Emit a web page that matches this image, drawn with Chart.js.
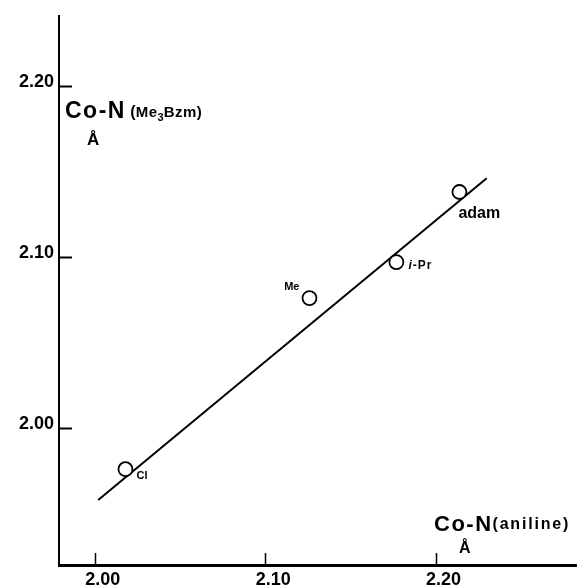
<!DOCTYPE html>
<html><head><meta charset="utf-8">
<script src="https://cdn.jsdelivr.net/npm/chart.js@4/dist/chart.umd.min.js"></script>
<style>html,body{margin:0;padding:0;background:#fff;}#wrap{width:577px;height:588px;}</style>
</head><body><div id="wrap"><canvas id="c" width="577" height="588"></canvas></div>
<script>
const compoundLabels = ['Cl', 'Me', 'i-Pr', 'adam'];
const coNAniline = [2.018, 2.126, 2.177, 2.214];
const coNMe3Bzm = [1.976, 2.076, 2.097, 2.138];
const fitLineX = [2.002, 2.230];
const fitLineY = [1.958, 2.146];
const xTicks = [2.00, 2.10, 2.20];
const yTicks = [2.00, 2.10, 2.20];
const xRange = [1.979, 2.283];
const yRange = [1.920, 2.241];

const FONT = '"Liberation Sans", Arial, sans-serif';

const pointData = coNAniline.map((x, i) => ({x: x, y: coNMe3Bzm[i]}));
const lineData = fitLineX.map((x, i) => ({x: x, y: fitLineY[i]}));

const decor = {
  id: 'decor',
  afterDraw(chart) {
    const ctx = chart.ctx;
    const xs = chart.scales.x, ys = chart.scales.y;
    const ca = chart.chartArea;
    ctx.save();
    ctx.strokeStyle = '#000';
    ctx.lineWidth = 2;
    yTicks.forEach(v => {
      const py = Math.round(ys.getPixelForValue(v)) + 0.5;
      ctx.beginPath(); ctx.moveTo(ca.left, py); ctx.lineTo(ca.left + 13, py); ctx.stroke();
    });
    ctx.lineWidth = 1.5;
    xTicks.forEach(v => {
      const px = Math.round(xs.getPixelForValue(v)) + 0.5;
      ctx.beginPath(); ctx.moveTo(px, ca.bottom); ctx.lineTo(px, ca.bottom - 12); ctx.stroke();
    });
    ctx.fillStyle = '#000';
    ctx.textBaseline = 'alphabetic';
    // point labels
    const offs = [[11, 10, 'left', 11], [-10, -8, 'right', 11], [12, 7, 'left', 12], [-1, 26, 'left', 16]];
    compoundLabels.forEach((lab, i) => {
      const px = xs.getPixelForValue(coNAniline[i]);
      const py = ys.getPixelForValue(coNMe3Bzm[i]);
      const o = offs[i];
      ctx.textAlign = o[2];
      if (lab.startsWith('i-')) {
        ctx.textAlign = 'left';
        ctx.font = 'italic bold ' + o[3] + 'px ' + FONT;
        ctx.fillText('i', px + o[0], py + o[1]);
        const w = ctx.measureText('i').width;
        ctx.font = 'bold ' + o[3] + 'px ' + FONT;
        ctx.letterSpacing = '1px';
        ctx.fillText(lab.slice(1), px + o[0] + w + 1, py + o[1]);
        ctx.letterSpacing = '0px';
      } else {
        ctx.font = 'bold ' + o[3] + 'px ' + FONT;
        ctx.fillText(lab, px + o[0], py + o[1]);
      }
    });
    // axis titles
    ctx.textAlign = 'left';
    const drawRun = (parts, x, y) => {
      parts.forEach(p => {
        ctx.font = 'bold ' + p[1] + 'px ' + FONT;
        ctx.letterSpacing = (p[3] || 0) + 'px';
        ctx.fillText(p[0], x, y + (p[2] || 0));
        x += ctx.measureText(p[0]).width;
      });
      ctx.letterSpacing = '0px';
    };
    drawRun([['Co-N', 23, 0, 1.5], [' (', 16, -1, 0], ['Me', 15, -1, 0.5], ['3', 11, 3, 0], ['Bzm)', 15, -1, 0.5]], 65, 118);
    drawRun([['Å', 17, 0, 0]], 87, 145);
    drawRun([['Co-N', 22, 0, 1.5], ['(aniline)', 16, -2, 1.8]], 434, 531);
    drawRun([['Å', 16, 0, 0]], 459, 553);
    ctx.restore();
  }
};

new Chart(document.getElementById('c'), {
  type: 'scatter',
  data: {
    datasets: [
      {
        label: 'compounds',
        data: pointData,
        order: 0,
        pointRadius: 7,
        pointHoverRadius: 7,
        pointBorderWidth: 1.8,
        pointBackgroundColor: '#fff',
        pointBorderColor: '#000'
      },
      {
        type: 'line',
        label: 'fit',
        data: lineData,
        order: 1,
        showLine: true,
        borderColor: '#000',
        borderWidth: 2,
        pointRadius: 0,
        fill: false
      }
    ]
  },
  options: {
    responsive: false,
    animation: false,
    events: [],
    layout: {autoPadding: false, padding: {top: 14, right: 0, left: 0, bottom: 0}},
    plugins: {legend: {display: false}, tooltip: {enabled: false}},
    scales: {
      x: {
        type: 'linear', min: xRange[0], max: xRange[1],
        afterBuildTicks: s => { s.ticks = xTicks.map(v => ({value: v})); },
        afterFit: s => { s.height = 23; },
        grid: {display: false, drawTicks: false},
        border: {display: true, color: '#000', width: 3},
        ticks: {
          padding: 4, labelOffset: 8, color: '#000',
          font: {family: FONT, size: 18, weight: 'bold'},
          callback: v => Number(v).toFixed(2)
        }
      },
      y: {
        type: 'linear', min: yRange[0], max: yRange[1],
        afterBuildTicks: s => { s.ticks = yTicks.map(v => ({value: v})); },
        afterFit: s => { s.width = 59; },
        grid: {display: false, drawTicks: false},
        border: {display: true, color: '#000', width: 2},
        ticks: {
          padding: 5, labelOffset: -4, color: '#000',
          font: {family: FONT, size: 18, weight: 'bold'},
          callback: v => Number(v).toFixed(2)
        }
      }
    }
  },
  plugins: [decor]
});
</script>
</body></html>
